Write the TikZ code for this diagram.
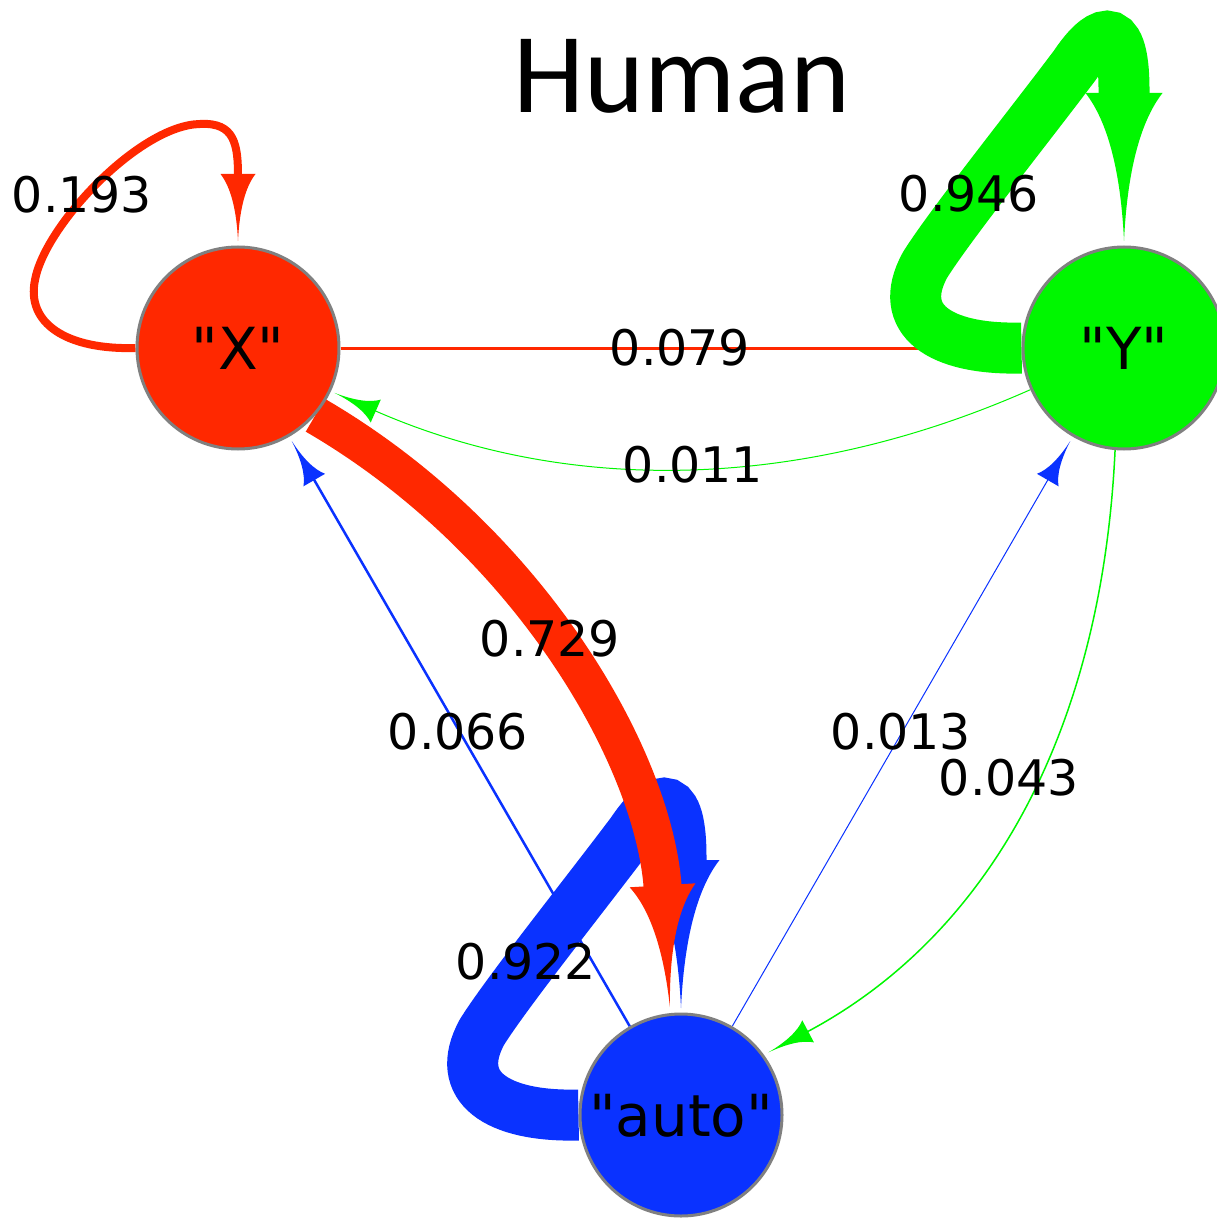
\documentclass[tikz,border=0pt]{standalone}
\usepackage{fontspec}
\setmainfont{DejaVu Sans}[Ligatures=TeXOff]
\newfontfamily\titlefont{Carlito}
\usetikzlibrary{arrows.meta}
\definecolor{mred}{RGB}{255,40,0}
\definecolor{mgreen}{RGB}{0,247,0}
\definecolor{mblue}{RGB}{10,50,255}
\definecolor{mgray}{RGB}{128,128,128}
\pgfdeclarearrow{
  name = MMA,
  parameters = {\the\pgfarrowlength,\the\pgfarrowwidth},
  setup code = {
    \pgfarrowssettipend{0pt}
    \pgfarrowssetbackend{-\pgfarrowlength}
    \pgfarrowssetlineend{-0.96\pgfarrowlength}
    \pgfarrowssavethe\pgfarrowlength
    \pgfarrowssavethe\pgfarrowwidth
  },
  drawing code = {
    \pgfpathmoveto{\pgfpoint{0pt}{0pt}}
    \pgfpathcurveto{\pgfpoint{-0.45\pgfarrowlength}{0.04\pgfarrowwidth}}{\pgfpoint{-0.8\pgfarrowlength}{0.2\pgfarrowwidth}}{\pgfpoint{-\pgfarrowlength}{0.5\pgfarrowwidth}}
    \pgfpathlineto{\pgfpoint{-\pgfarrowlength}{-0.5\pgfarrowwidth}}
    \pgfpathcurveto{\pgfpoint{-0.8\pgfarrowlength}{-0.2\pgfarrowwidth}}{\pgfpoint{-0.45\pgfarrowlength}{-0.04\pgfarrowwidth}}{\pgfpoint{0pt}{0pt}}
    \pgfpathclose
    \pgfusepathqfill
  },
  defaults = {length=45pt, width=25pt}
}
\pgfdeclarelayer{edges}
\pgfsetlayers{edges,main}
\begin{document}
\begin{tikzpicture}[x=1pt,y=-1pt,
  state/.style={circle, draw=mgray, line width=3pt, minimum size=202pt, inner sep=0pt,
    font=\fontsize{58}{58}\selectfont, text height=42.3pt, text depth=0pt},
  lbl/.style={font=\fontsize{49}{49}\selectfont, inner sep=0pt, text height=35.7pt, text depth=0pt},
  thin/.style={-{MMA[length=45pt,width=25pt]}, shorten >=5pt},
  bigloop/.style={line width=51pt, -{MMA[length=148pt,width=77pt]}}
]
\useasboundingbox (0,0) rectangle (1216,1222);

\node[state, fill=mred] (X) at (238,348) {"X"};
\node[state, fill=mgreen] (Y) at (1124,348) {"Y"};
\node[state, fill=mblue] (auto) at (681,1115) {"auto"};

\begin{pgfonlayer}{edges}
\fill[white] (0,0) rectangle (1216,1222);
% X -> Y
\draw[mred, line width=3pt, thin] (X.east) -- (Y.west);
% Y self loop
\begin{scope}[shift={(Y.center)}]
\draw[mgreen, bigloop] (Y.west) .. controls (-184,2) and (-229,-28) .. (-199,-83)
  .. controls (-174,-123) and (-94,-223) .. (-49,-283)
  .. controls (-29,-313) and (0,-338) .. (0,-258) -- (0,-107);
\end{scope}
% Y -> X
\draw[mgreen, line width=1pt, thin, shorten >=4pt] (Y.204.6) .. controls (797,493) and (564,494) .. (X.335);
% auto -> X
\draw[mblue, line width=2.5pt, thin] (auto) -- (X);
% auto -> Y
\draw[mblue, line width=1pt, thin] (auto) -- (Y);
% Y -> auto
\draw[mgreen, line width=1.5pt, thin] (Y.265) .. controls (1101.7,736.3) and (985.7,937.3) .. (auto.36);
% auto self loop
\begin{scope}[shift={(auto.center)}]
\draw[mblue, bigloop] (auto.west) .. controls (-184,2) and (-229,-28) .. (-199,-83)
  .. controls (-174,-123) and (-94,-223) .. (-49,-283)
  .. controls (-29,-313) and (0,-338) .. (0,-258) -- (0,-107);
\end{scope}
% X -> auto
\draw[mred, line width=38pt, -{MMA[length=122pt,width=66pt]}, shorten >=6pt] (X.319) .. controls (530,540) and (655,760) .. (auto.96);
% X self loop
\begin{scope}[shift={(X.center)}]
\draw[mred, line width=8pt, -{MMA[length=67pt,width=35pt]}] (X.west) .. controls (-172,2) and (-212,-25) .. (-203,-68)
  .. controls (-193,-123) and (-98,-223) .. (-38,-224)
  .. controls (-3,-226) and (0,-203) .. (0,-107);
\end{scope}
\end{pgfonlayer}

\node[font=\titlefont\fontsize{114}{114}\selectfont, text height=73.4pt, text depth=0pt, inner sep=0pt] (title) at (682,76) {Human};

\node[lbl] (l193) at (82,195) {0.193};
\node[lbl] (l946) at (969,194) {0.946};
\node[lbl] (l079) at (680,348) {0.079};
\node[lbl] (l011) at (693,465) {0.011};
\node[lbl] (l729) at (550,639) {0.729};
\node[lbl] (l066) at (458,732) {0.066};
\node[lbl] (l922) at (526,962) {0.922};
\node[lbl] (l013) at (901,732) {0.013};
\node[lbl] (l043) at (1009,778) {0.043};
\end{tikzpicture}
\end{document}
